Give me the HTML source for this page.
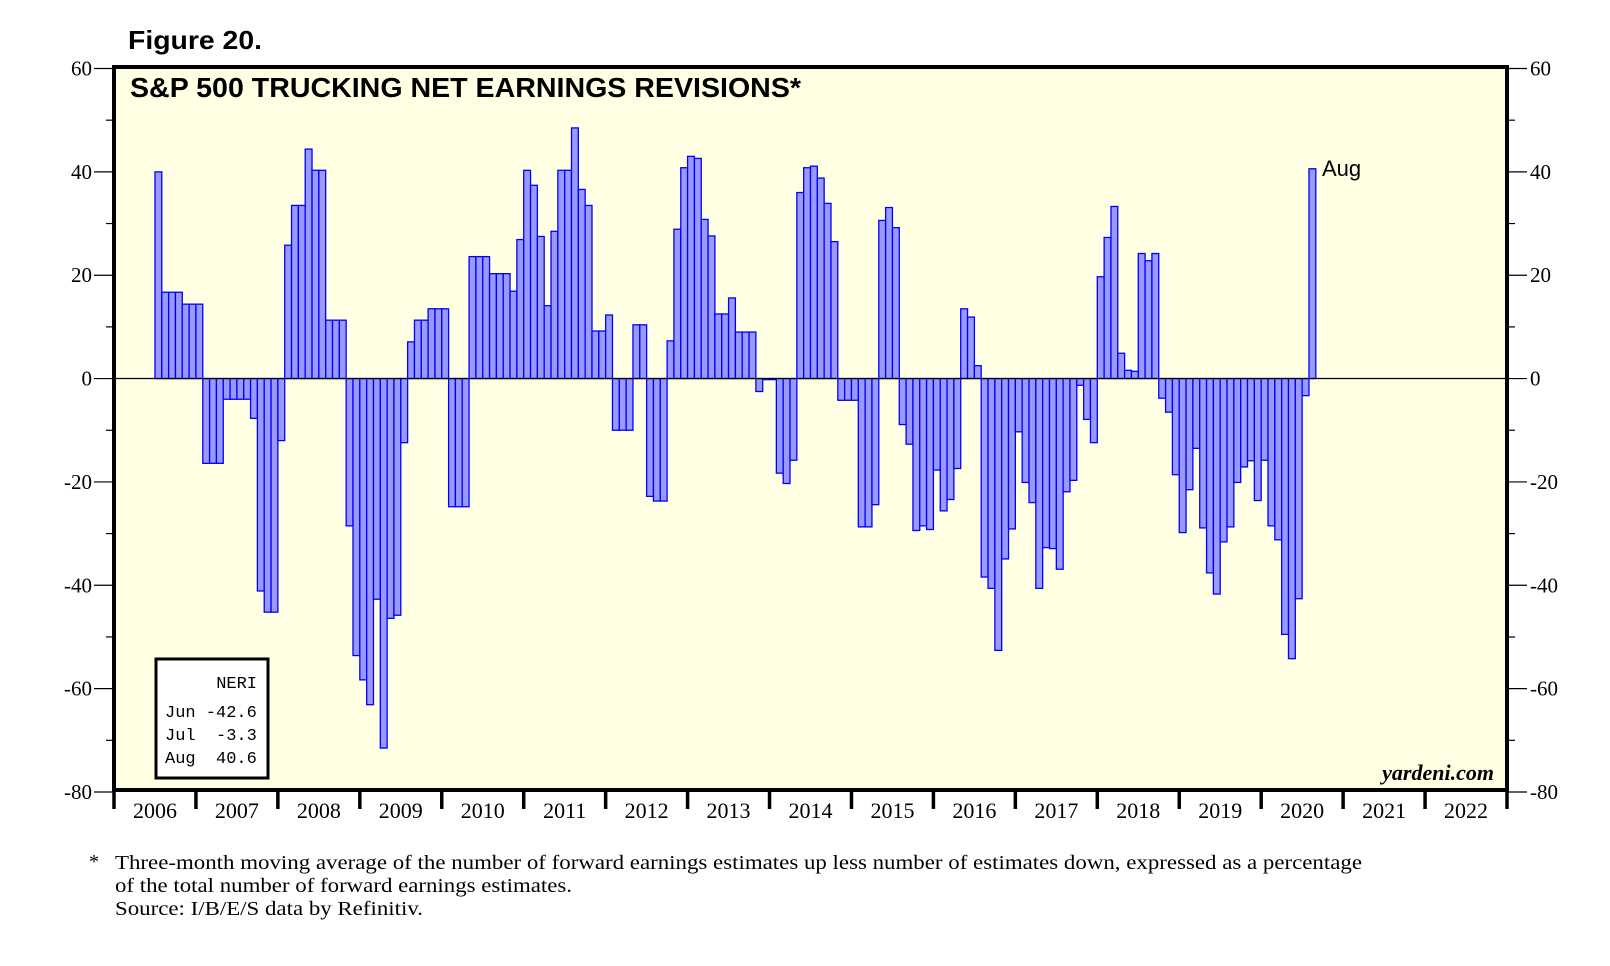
<!DOCTYPE html>
<html><head><meta charset="utf-8"><style>
html,body{margin:0;padding:0;background:#fff;}
svg{display:block;}
</style></head><body>
<svg id="chart" width="1610" height="966" viewBox="0 0 1610 966" xmlns="http://www.w3.org/2000/svg">
<text x="128" y="49" font-family="Liberation Sans, sans-serif" font-weight="bold" font-size="26" textLength="134" lengthAdjust="spacingAndGlyphs">Figure 20.</text>
<rect x="114" y="67" width="1393" height="723" fill="#FFFFE3"/>
<g id="bars"></g>
<line x1="114" x2="1507" y1="378.5" y2="378.5" stroke="#000" stroke-width="1.2"/>
<rect x="114" y="67" width="1393" height="723" fill="none" stroke="#000" stroke-width="4"/>
<g id="yaxis"></g>
<g id="xaxis"></g>
<text x="130" y="97" font-family="Liberation Sans, sans-serif" font-weight="bold" font-size="28" textLength="671" lengthAdjust="spacingAndGlyphs">S&amp;P 500 TRUCKING NET EARNINGS REVISIONS*</text>
<text x="1322" y="176" font-family="Liberation Sans, sans-serif" font-size="22">Aug</text>
<g>
<rect x="156" y="659" width="112" height="119" fill="#fff" stroke="#000" stroke-width="3"/>
<g font-family="Liberation Mono, monospace" font-size="17" fill="#000">
<text x="257" y="688" text-anchor="end">NERI</text>
<text x="165" y="717" xml:space="preserve">Jun -42.6</text>
<text x="165" y="740" xml:space="preserve">Jul  -3.3</text>
<text x="165" y="763" xml:space="preserve">Aug  40.6</text>
</g></g>
<text x="1494" y="780" text-anchor="end" font-family="Liberation Serif, serif" font-weight="bold" font-style="italic" font-size="22">yardeni.com</text>
<g font-family="Liberation Serif, serif" font-size="20" fill="#000">
<text x="89" y="868">*</text>
<text x="115" y="869" textLength="1247" lengthAdjust="spacingAndGlyphs">Three-month moving average of the number of forward earnings estimates up less number of estimates down, expressed as a percentage</text>
<text x="115" y="892" textLength="457" lengthAdjust="spacingAndGlyphs">of the total number of forward earnings estimates.</text>
<text x="115" y="915" textLength="308" lengthAdjust="spacingAndGlyphs">Source: I/B/E/S data by Refinitiv.</text>
</g>
</svg>
<script>
const startYear = 2006;
const startMonth = 6; // July (0-based)
const neriValues = [
40,16.7,16.7,16.7,14.4,14.4,
14.4,-16.4,-16.4,-16.4,-4,-4,-4,-4,-7.7,-41.1,-45.2,-45.2,
-12,25.8,33.5,33.5,44.4,40.3,40.3,11.3,11.3,11.3,-28.5,-53.6,
-58.3,-63.1,-42.7,-71.5,-46.4,-45.8,-12.4,7.1,11.3,11.3,13.5,13.5,
13.5,-24.8,-24.8,-24.8,23.6,23.6,23.6,20.3,20.3,20.3,16.9,26.9,
40.3,37.4,27.5,14.1,28.5,40.3,40.3,48.5,36.6,33.5,9.2,9.2,
12.3,-10,-10,-10,10.4,10.4,-22.8,-23.7,-23.7,7.3,28.9,40.8,
43,42.6,30.8,27.6,12.5,12.5,15.6,9,9,9,-2.5,-0.2,
-0.2,-18.3,-20.3,-15.8,36,40.8,41.1,38.8,33.9,26.5,-4.2,-4.2,
-4.2,-28.7,-28.7,-24.4,30.6,33.1,29.2,-8.9,-12.7,-29.4,-28.5,-29.2,
-17.7,-25.6,-23.4,-17.4,13.5,11.9,2.5,-38.4,-40.6,-52.6,-34.9,-29.1,
-10.3,-20.1,-24,-40.6,-32.7,-32.9,-36.9,-21.9,-19.7,-1.3,-7.9,-12.4,
19.7,27.3,33.3,4.9,1.6,1.4,24.2,22.8,24.2,-3.8,-6.5,-18.6,
-29.8,-21.5,-13.5,-28.9,-37.6,-41.7,-31.6,-28.7,-20.1,-17.1,-15.9,-23.6,
-15.8,-28.5,-31.2,-49.5,-54.2,-42.6,-3.3,40.6
];
const yearLabels = ["2006","2007","2008","2009","2010","2011","2012","2013","2014","2015","2016","2017","2018","2019","2020","2021","2022"];
const yTickValues = [60,40,20,0,-20,-40,-60,-80];
const yMinorValues = [50,30,10,-10,-30,-50,-70];

const NS = "http://www.w3.org/2000/svg";
const X0 = 114, X1 = 1507, Y_TOP = 68.5, Y_BOT = 792;
const yMax = 60, yMin = -80;
const monthW = (X1 - X0) / (yearLabels.length * 12);
function xScale(m) { return X0 + m * monthW; }
function yScale(v) { return Y_TOP + (yMax - v) / (yMax - yMin) * (Y_BOT - Y_TOP); }
function mk(tag, attrs, parent) {
  const e = document.createElementNS(NS, tag);
  for (const k in attrs) e.setAttribute(k, attrs[k]);
  parent.appendChild(e);
  return e;
}
const bars = document.getElementById('bars');
neriValues.forEach((v, i) => {
  const m = (startYear - 2006) * 12 + startMonth + i;
  const y0 = yScale(0), y1 = yScale(v);
  const r = mk('rect', {x: xScale(m), y: Math.min(y0, y1), width: monthW, height: Math.max(Math.abs(y1 - y0), 0.8), fill: '#9999FF', stroke: '#0000FF', 'stroke-width': 1.3}, bars);
  
  
});
const yax = document.getElementById('yaxis');
yTickValues.forEach(v => {
  const y = yScale(v);
  const l1 = mk('line', {x1: 94, x2: 114, y1: y, y2: y, stroke: '#000', 'stroke-width': 1.2}, yax);
  
  
  const l2 = mk('line', {x1: 1507, x2: 1527, y1: y, y2: y, stroke: '#000', 'stroke-width': 1.2}, yax);
  
  
  const t1 = mk('text', {x: 92, y: y + 7, 'text-anchor': 'end', 'font-family': 'Liberation Serif, serif', 'font-size': 21}, yax);
  t1.textContent = String(v);
  
  
  const t2 = mk('text', {x: 1530, y: y + 7, 'font-family': 'Liberation Serif, serif', 'font-size': 21}, yax);
  t2.textContent = String(v);
  
  
});
yMinorValues.forEach(v => {
  const y = yScale(v);
  const l1 = mk('line', {x1: 106, x2: 114, y1: y, y2: y, stroke: '#000', 'stroke-width': 1.2}, yax);
  
  
  const l2 = mk('line', {x1: 1507, x2: 1515, y1: y, y2: y, stroke: '#000', 'stroke-width': 1.2}, yax);
  
  
});
const xax = document.getElementById('xaxis');
for (let i = 0; i <= yearLabels.length; i++) {
  const x = xScale(i * 12);
  const l = mk('line', {x1: x, x2: x, y1: 790, y2: 809, stroke: '#000', 'stroke-width': 3.5}, xax);
  
  
}
yearLabels.forEach((lab, i) => {
  const t = mk('text', {x: xScale(i * 12 + 6), y: 818, 'text-anchor': 'middle', 'font-family': 'Liberation Serif, serif', 'font-size': 22}, xax);
  t.textContent = lab;
  
  
});
</script>
</body></html>
